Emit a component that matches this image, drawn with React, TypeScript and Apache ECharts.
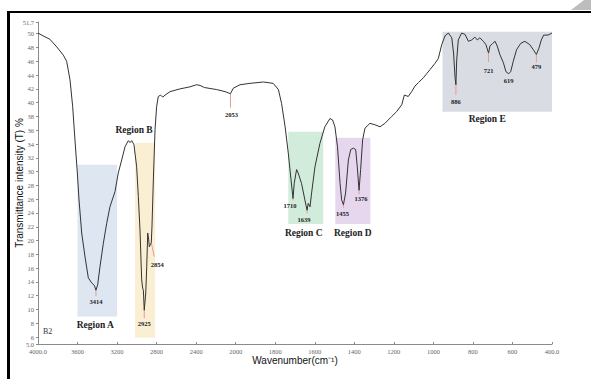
import React, { useEffect, useRef } from "react";
import * as echarts from "echarts";

// ---------- data ----------
const wavenumbers = [
  4000, 3950, 3880, 3811, 3744, 3710, 3676, 3649, 3626, 3602, 3585, 3558, 3524, 3491, 3457, 3430, 3414,
  3396, 3373, 3339, 3305, 3272, 3221, 3188, 3153, 3120, 3086, 3069, 3052, 3029, 3002, 2985, 2968, 2958,
  2951, 2941, 2934, 2925, 2910, 2900, 2890, 2880, 2874, 2864, 2854, 2847, 2833, 2816, 2800, 2783, 2759,
  2738, 2715, 2664, 2563, 2462, 2397, 2361, 2317, 2192, 2108, 2053, 2024, 1978, 1928, 1860, 1810, 1784,
  1768, 1750, 1734, 1720, 1710, 1704, 1692, 1684, 1667, 1650, 1639, 1633, 1624, 1616, 1599, 1574, 1549,
  1523, 1510, 1498, 1485, 1472, 1464, 1455, 1444, 1430, 1418, 1405, 1393, 1385, 1376, 1368, 1358, 1346,
  1321, 1296, 1270, 1245, 1211, 1186, 1160, 1147, 1127, 1110, 1093, 1076, 1051, 1034, 1017, 992, 975,
  958, 941, 924, 907, 898, 890, 886, 882, 874, 857, 840, 823, 806, 790, 778, 765, 747, 734, 721, 714,
  700, 688, 677, 664, 646, 633, 619, 609, 596, 579, 558, 537, 512, 495, 479, 466, 454, 442, 420, 400,
];
const transmittance = [
  50.1, 49.7, 49.2, 48.1, 46.9, 46.0, 43.3, 39.4, 34.6, 29.8, 25.9, 21.1, 17.6, 14.6, 13.85, 13.5, 12.8,
  13.6, 16.2, 19.6, 22.5, 24.9, 27.1, 29.8, 31.7, 33.6, 34.5, 34.2, 34.5, 33.9, 30.7, 26.4, 21.5, 17.2,
  14.3, 13.1, 12.8, 9.9, 12.4, 16.2, 21.1, 20.1, 19.1, 19.4, 19.7, 22.0, 28.8, 36.1, 39.4, 40.9, 41.1,
  40.8, 41.1, 41.6, 42.0, 42.3, 42.6, 42.5, 42.2, 41.9, 41.6, 41.3, 42.1, 42.6, 42.8, 43.0, 42.8, 41.9,
  39.9, 36.5, 32.7, 28.8, 26.1, 28.3, 30.3, 29.8, 28.3, 25.9, 24.4, 25.4, 24.9, 26.9, 30.7, 34.1, 36.5,
  37.7, 37.5, 36.5, 33.6, 28.3, 25.9, 25.2, 26.9, 31.7, 33.2, 33.4, 33.2, 30.7, 27.3, 30.3, 34.6, 36.3,
  37.0, 36.8, 36.5, 37.0, 38.0, 38.7, 39.7, 41.1, 40.9, 41.6, 42.4, 42.9, 43.6, 44.2, 44.8, 45.7, 46.4,
  48.4, 49.7, 50.1, 49.4, 47.2, 43.5, 42.6, 46.2, 49.1, 50.1, 49.9, 48.9, 49.1, 49.5, 49.1, 49.4, 48.9,
  48.4, 47.2, 48.2, 48.6, 48.9, 48.2, 47.0, 45.8, 44.5, 44.2, 44.5, 46.0, 47.7, 48.6, 48.9, 48.4, 47.7,
  47.0, 47.9, 49.1, 49.8, 49.8, 50.1,
];

const xTickLabels = ["4000.0", "3600", "3200", "2800", "2400", "2000", "1800", "1600", "1400", "1200", "1000", "800", "600", "400.0"];
const yTickValues = [5, 6, 8, 10, 12, 14, 16, 18, 20, 22, 24, 26, 28, 30, 32, 34, 36, 38, 40, 42, 44, 46, 48, 50, 51.7];

const regionNames = ["Region A", "Region B", "Region C", "Region D", "Region E"];
const regionWaveFrom = [3600, 3018, 1734, 1496, 954];
const regionWaveTo = [3200, 2815, 1557, 1319, 372];
const regionTMin = [9, 5.9, 22.4, 22.4, 38.7];
const regionTMax = [31, 34.2, 35.8, 34.9, 50.3];

const peakWavenumbers = [3414, 2925, 2854, 2053, 1710, 1639, 1455, 1376, 886, 721, 619, 479];
const peakTransmittance = [12.8, 9.9, 19.7, 41.3, 26.1, 24.4, 25.2, 27.3, 42.6, 47.2, 44.2, 47.0];

// ---------- styles / layout ----------
const regionColors = ["#dde6f1", "#fbefd3", "#d2ecdb", "#e6d7ee", "#d9dde3"];
const regionLabelPos = [
  { position: "bottom", distance: 4, offset: [-2, 0] },
  { position: "top", distance: 8, offset: [-11, 0] },
  { position: "bottom", distance: 4, offset: [-2, 0] },
  { position: "bottom", distance: 4, offset: [0, 0] },
  { position: "bottom", distance: 2, offset: [-10, 0] },
];
// [line dx, line dy, text dx, text dy]
const peakLayout = [
  [0, 6, 0, 11],
  [0, 8, 0, 13],
  [3, 14, 6, 22],
  [0, 14, 1, 21],
  [0, 2, -3, 7],
  [0, 3, -3, 9],
  [0, 3, -1, 8.5],
  [0, 4, 2, 8],
  [0, 10, 0, 17],
  [0, 9, 0, 17],
  [0, 0, 0, 7],
  [0, 8, 0, 12],
];

// FTIR x scale: 4000-2000 compressed (400 per tick), 2000-400 (200 per tick)
const toAxis = (w: number) => (w >= 2000 ? (4000 - w) / 400 : 5 + (2000 - w) / 200);

export default function App() {
  const ref = useRef<HTMLDivElement>(null);

  useEffect(() => {
    if (!ref.current) return;
    const chart = echarts.init(ref.current, null, { renderer: "svg" });

    const serif = "'Liberation Serif', 'Times New Roman', serif";
    const sans = "'Liberation Sans', Arial, sans-serif";

    const spectrum = wavenumbers.map((w, i) => [toAxis(w), transmittance[i]]);
    const areas = regionNames.map((name, i) => [
      {
        name,
        coord: [toAxis(regionWaveFrom[i]), regionTMax[i]],
        itemStyle: { color: regionColors[i] },
        label: {
          show: true,
          position: regionLabelPos[i].position,
          distance: regionLabelPos[i].distance,
          offset: regionLabelPos[i].offset,
          fontFamily: serif,
          fontWeight: "bold",
          fontSize: 9.5,
          color: "#222",
        },
      },
      { coord: [toAxis(regionWaveTo[i]), regionTMin[i]] },
    ]);

    const option: any = {
      animation: false,
      backgroundColor: "#ffffff",
      grid: { left: 38, right: 39, top: 22, bottom: 35, containLabel: false, outerBoundsMode: "none" },
      xAxis: {
        type: "value",
        min: 0,
        max: 13,
        interval: 1,
        name: "Wavenumber(cm\u207B\u00B9)",
        nameLocation: "middle",
        nameGap: 11,
        nameMoveOverlap: false,
        nameTextStyle: { fontFamily: sans, fontSize: 10, color: "#111" },
        axisLine: { show: true, lineStyle: { color: "#8a8a8a", width: 1 } },
        axisTick: { show: true, inside: true, length: 2, lineStyle: { color: "#8a8a8a" } },
        axisLabel: {
          formatter: (v: number) => xTickLabels[Math.round(v)] ?? "",
          fontFamily: serif,
          fontSize: 6.5,
          color: "#666",
          margin: 4,
        },
        splitLine: { show: false },
      },
      yAxis: {
        type: "value",
        min: 5,
        max: 51.7,
        name: "Transmittance intensity (T) %",
        nameLocation: "middle",
        nameGap: 14,
        nameMoveOverlap: false,
        nameTextStyle: { fontFamily: sans, fontSize: 10, color: "#111" },
        axisLine: { show: true, lineStyle: { color: "#8a8a8a", width: 1 } },
        axisTick: { show: true, length: 2, customValues: yTickValues, lineStyle: { color: "#8a8a8a" } },
        axisLabel: {
          customValues: yTickValues,
          formatter: (v: number) => (v === 5 ? "5.0" : String(v)),
          fontFamily: serif,
          fontSize: 6.5,
          color: "#666",
          margin: 4,
          hideOverlap: false,
        },
        splitLine: { show: false },
      },
      series: [
        {
          type: "line",
          data: [],
          z: 1,
          silent: true,
          markArea: { silent: true, data: areas, emphasis: { disabled: true } },
        },
        {
          type: "custom",
          z: 2,
          silent: true,
          data: peakWavenumbers.map((w, i) => [toAxis(w), peakTransmittance[i]]),
          renderItem: (params: any, api: any) => {
            const i = params.dataIndex;
            const pt = api.coord([api.value(0), api.value(1)]);
            const lay = peakLayout[i];
            const children: any[] = [];
            if (lay[1] > 0) {
              children.push({
                type: "line",
                shape: { x1: pt[0], y1: pt[1], x2: pt[0] + lay[0], y2: pt[1] + lay[1] },
                style: { stroke: "#e79a9a", lineWidth: 1 },
              });
            }
            children.push({
              type: "text",
              x: pt[0] + lay[2],
              y: pt[1] + lay[3],
              style: {
                text: String(peakWavenumbers[i]),
                fontFamily: serif,
                fontWeight: "bold",
                fontSize: 6.5,
                fill: "#222",
                align: "center",
                verticalAlign: "middle",
              },
            });
            return { type: "group", children };
          },
        },
        {
          type: "line",
          z: 3,
          silent: true,
          showSymbol: false,
          data: spectrum,
          lineStyle: { color: "#333", width: 1 },
        },
      ],
      graphic: [
        { type: "rect", left: 7, top: 11, shape: { width: 3, height: 368 }, style: { fill: "#000" } },
        { type: "rect", left: 7, top: 11, shape: { width: 584, height: 2 }, style: { fill: "#000" } },
        {
          type: "polygon",
          shape: { points: [[571, 10], [584, 0], [591, 0], [591, 10]] },
          style: { fill: "#bdbdbd" },
        },
        {
          type: "text",
          left: 43,
          top: 327,
          style: { text: "B2", fontFamily: serif, fontSize: 8, fill: "#333" },
        },
      ],
    };

    chart.setOption(option);
    return () => chart.dispose();
  }, []);

  return (
    <div
      ref={ref}
      style={{ position: "absolute", left: 0, top: 0, width: 591, height: 379, background: "#fff" }}
    />
  );
}
